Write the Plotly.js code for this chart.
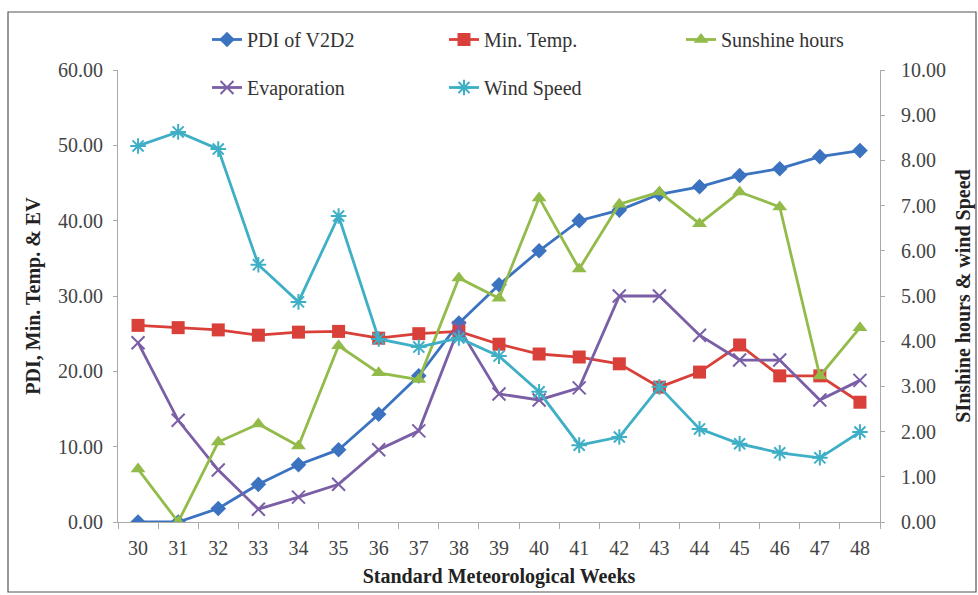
<!DOCTYPE html>
<html>
<head>
<meta charset="utf-8">
<script src="https://cdn.plot.ly/plotly-3.0.1.min.js"></script>
<style>html,body{margin:0;padding:0;background:#fff;}#chart{width:978px;height:595px;}</style>
</head>
<body>
<div id="chart"></div>
<script>
const weeks = ['30','31','32','33','34','35','36','37','38','39','40','41','42','43','44','45','46','47','48'];
const pdi = [0, 0, 1.8, 5.0, 7.6, 9.6, 14.3, 19.4, 26.4, 31.5, 36.0, 40.0, 41.4, 43.5, 44.5, 46.0, 46.9, 48.5, 49.3];
const minTemp = [26.1, 25.8, 25.5, 24.8, 25.2, 25.3, 24.4, 25.0, 25.3, 23.6, 22.3, 21.9, 21.0, 17.9, 19.9, 23.5, 19.4, 19.4, 15.9];
const sunshine = [1.17, 0, 1.77, 2.17, 1.68, 3.9, 3.3, 3.15, 5.4, 4.95, 7.17, 5.6, 7.03, 7.3, 6.6, 7.3, 6.97, 3.23, 4.3];
const evaporation = [23.8, 13.5, 6.9, 1.7, 3.3, 5.0, 9.6, 12.1, 25.8, 17.0, 16.2, 17.8, 30.0, 30.0, 24.8, 21.5, 21.5, 16.2, 18.8];
const windSpeed = [8.32, 8.63, 8.25, 5.69, 4.87, 6.77, 4.05, 3.87, 4.07, 3.67, 2.88, 1.70, 1.88, 2.99, 2.06, 1.73, 1.53, 1.42, 1.99];
const leftTicks = [0, 10, 20, 30, 40, 50, 60];
const rightTicks = [0, 1, 2, 3, 4, 5, 6, 7, 8, 9, 10];

const serif = "'Liberation Serif', 'Times New Roman', serif";
const traces = [
  {x: weeks, y: pdi, name: 'PDI of V2D2', mode: 'lines+markers', yaxis: 'y', legend: 'legend', legendgroup: 'a',
   line: {color: '#3B73C0', width: 2.8}, marker: {symbol: 'diamond', size: 12, color: '#3B73C0'}},
  {x: weeks, y: minTemp, name: 'Min. Temp.', mode: 'lines+markers', yaxis: 'y', legend: 'legend2', legendgroup: 'b',
   line: {color: '#D9403A', width: 2.8}, marker: {symbol: 'square', size: 13, color: '#D9403A'}},
  {x: weeks, y: sunshine, name: 'Sunshine hours', mode: 'lines+markers', yaxis: 'y2', legend: 'legend3', legendgroup: 'c',
   line: {color: '#92BB4A', width: 2.8}, marker: {symbol: 'triangle-up', size: 13, color: '#92BB4A'}},
  {x: weeks, y: evaporation, name: 'Evaporation', mode: 'lines+markers', yaxis: 'y', legend: 'legend', legendgroup: 'd',
   line: {color: '#7B5FA6', width: 2.8}, marker: {symbol: 'x-thin-open', size: 13, color: '#7B5FA6', line: {width: 2, color: '#7B5FA6'}}},
  {x: weeks, y: windSpeed, name: 'Wind Speed', mode: 'lines+markers', yaxis: 'y2', legend: 'legend2', legendgroup: 'e',
   line: {color: '#3FAFC6', width: 2.8}, marker: {symbol: 'asterisk-open', size: 13, color: '#3FAFC6', line: {width: 2, color: '#3FAFC6'}}}
];

const tickFont = {family: serif, size: 20, color: '#444'};
const titleFont = {family: serif, size: 20, color: '#222', weight: 'bold'};
const legendFont = {family: serif, size: 20, color: '#333'};

function legendAt(xpx) {
  return {
    orientation: 'v', x: (xpx - 118) / 762, xanchor: 'left', y: 1 + (70 - 20) / 452, yanchor: 'top',
    tracegroupgap: 19, font: legendFont, bgcolor: 'rgba(0,0,0,0)', borderwidth: 0
  };
}

const layout = {
  width: 978, height: 595,
  margin: {l: 118, r: 98, t: 70, b: 73},
  paper_bgcolor: '#fff', plot_bgcolor: '#fff',
  font: {family: serif},
  xaxis: {
    type: 'category', range: [-0.5, 18.5], tickson: 'boundaries', ticks: 'outside', ticklen: 6, tickcolor: '#aaa',
    showgrid: false, showline: true, linecolor: '#aaa', linewidth: 1, zeroline: false,
    tickfont: tickFont, ticklabelstandoff: 8,
    title: {text: 'Standard Meteorological Weeks', font: titleFont, standoff: 10}
  },
  yaxis: {
    range: [0, 60], tickvals: leftTicks, ticktext: leftTicks.map(v => v.toFixed(2)),
    ticks: 'outside', ticklen: 4, tickcolor: '#aaa', showgrid: false, showline: true,
    linecolor: '#aaa', zeroline: false, tickfont: tickFont, ticklabelstandoff: 6,
    title: {text: 'PDI, Min. Temp. & EV', font: titleFont, standoff: 12}
  },
  yaxis2: {
    overlaying: 'y', side: 'right', range: [0, 10], tickvals: rightTicks,
    ticktext: rightTicks.map(v => v.toFixed(2)),
    ticks: 'outside', ticklen: 4, tickcolor: '#aaa', showgrid: false, showline: true,
    linecolor: '#aaa', zeroline: false, tickfont: tickFont, ticklabelstandoff: 12,
    title: {text: 'SInshine hours & wind Speed', font: titleFont, standoff: 10}
  },
  legend: legendAt(207),
  legend2: legendAt(444),
  legend3: legendAt(681),
  shapes: [
    {type: 'rect', xref: 'paper', yref: 'paper', x0: (8 - 118) / 762, x1: (976 - 118) / 762,
     y0: (522 - 592) / 452, y1: 1 + (70 - 12) / 452, line: {color: '#555', width: 1.2}, fillcolor: 'rgba(0,0,0,0)', layer: 'below'}
  ]
};

Plotly.newPlot('chart', traces, layout, {displayModeBar: false, staticPlot: true});
</script>
</body>
</html>
